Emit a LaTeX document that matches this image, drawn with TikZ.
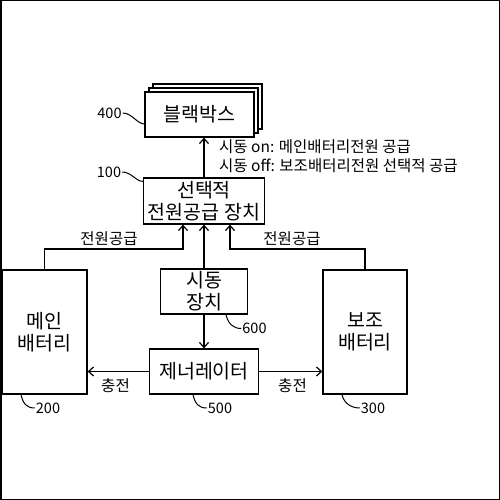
\documentclass[tikz,border=0pt]{standalone}
\usepackage{fontspec}
\setmainfont{Noto Sans CJK KR}
\usetikzlibrary{arrows.meta, shadows}
\tikzset{box/.style={rectangle,draw,fill=white,line width=1.3pt,align=center,inner sep=0pt,font=\fontsize{19.5}{22}\selectfont},
  line/.style={line width=1.2pt,-{Straight Barb[length=5pt,width=9pt,line width=1.2pt]}},
  note/.style={font=\fontsize{15.5}{18}\selectfont,inner sep=0pt},
  refno/.style={font=\fontsize{14.5}{17}\selectfont,inner sep=1pt},
  lead/.style={line width=1pt}}

\begin{document}
\begin{tikzpicture}[x=1pt,y=-1pt]
\useasboundingbox (0,0) rectangle (500,500);
\draw[line width=1.5pt] (0.75,0.75) rectangle (499.25,499.25);
% boxes
\node[box, minimum width=109pt, minimum height=45pt,
  double copy shadow={shadow xshift=4pt,shadow yshift=4pt,fill=white,draw=black,line width=1.3pt}] (bb) at (199.5,114.5) {블랙박스};
\node[box, minimum width=121pt, minimum height=46pt] (sel) at (204,201) {선택적\\전원공급 장치};
\node[box, minimum width=85pt, minimum height=124pt] (mb) at (44.5,332) {메인\\배터리};
\node[box, minimum width=84pt, minimum height=124pt] (sb) at (365,332) {보조\\배터리};
\node[box, minimum width=87pt, minimum height=45pt] (st) at (204,291.5) {시동\\장치};
\node[box, minimum width=109pt, minimum height=45pt] (gen) at (204,371.5) {제너레이터};
\coordinate (jl) at (183,249);
\coordinate (jr) at (230,249);
% connectors
\draw[line] (sel.north) -- (sel.north |- bb.south);
\draw[line] (st.north) -- (sel.south);
\draw[line] (st.south) -- (gen.north);
\draw[line] (mb.north) |- (jl) -- (jl |- sel.south);
\draw[line] (sb.north) |- (jr) -- (jr |- sel.south);
\draw[line] (gen.west) -- (gen.west -| mb.east);
\draw[line] (gen.east) -- (gen.east -| sb.west);
% texts
\node[note, anchor=west] (on) at (219,147) {시동 on: 메인배터리전원 공급};
\node[note, anchor=west] (off) at (219,166) {시동 off: 보조배터리전원 선택적 공급};
\node[note] (pl) at (109,239) {전원공급};
\node[note] (pr) at (292,239) {전원공급};
\node[note] (cl) at (115.5,386) {충전};
\node[note] (cr) at (292.5,386) {충전};
% reference numbers
\node[refno] (n400) at (109.5,113) {400};
\node[refno] (n100) at (109,172) {100};
\node[refno] (n200) at (48,408) {200};
\node[refno] (n300) at (373,408) {300};
\node[refno] (n500) at (220,408) {500};
\node[refno] (n600) at (254.5,328.5) {600};
\draw[lead] (n400.east) .. controls +(9,0) and +(-7,0) .. ([yshift=-9.5pt]bb.west);
\draw[lead] (n100.east) .. controls +(9,0) and +(-7,0) .. ([yshift=-4pt]sel.north west);
\draw[lead] ([xshift=-23.5pt]mb.south) .. controls +(2,9) and +(-8,0) .. (n200.west);
\draw[lead] ([xshift=-23pt]sb.south) .. controls +(2,9) and +(-8,0) .. (n300.west);
\draw[lead] ([xshift=-11pt]gen.south) .. controls +(2,9) and +(-8,0) .. (n500.west);
\draw[lead] ([xshift=22pt]st.south) .. controls +(2,9) and +(-8,0) .. (n600.west);
\end{tikzpicture}
\end{document}
